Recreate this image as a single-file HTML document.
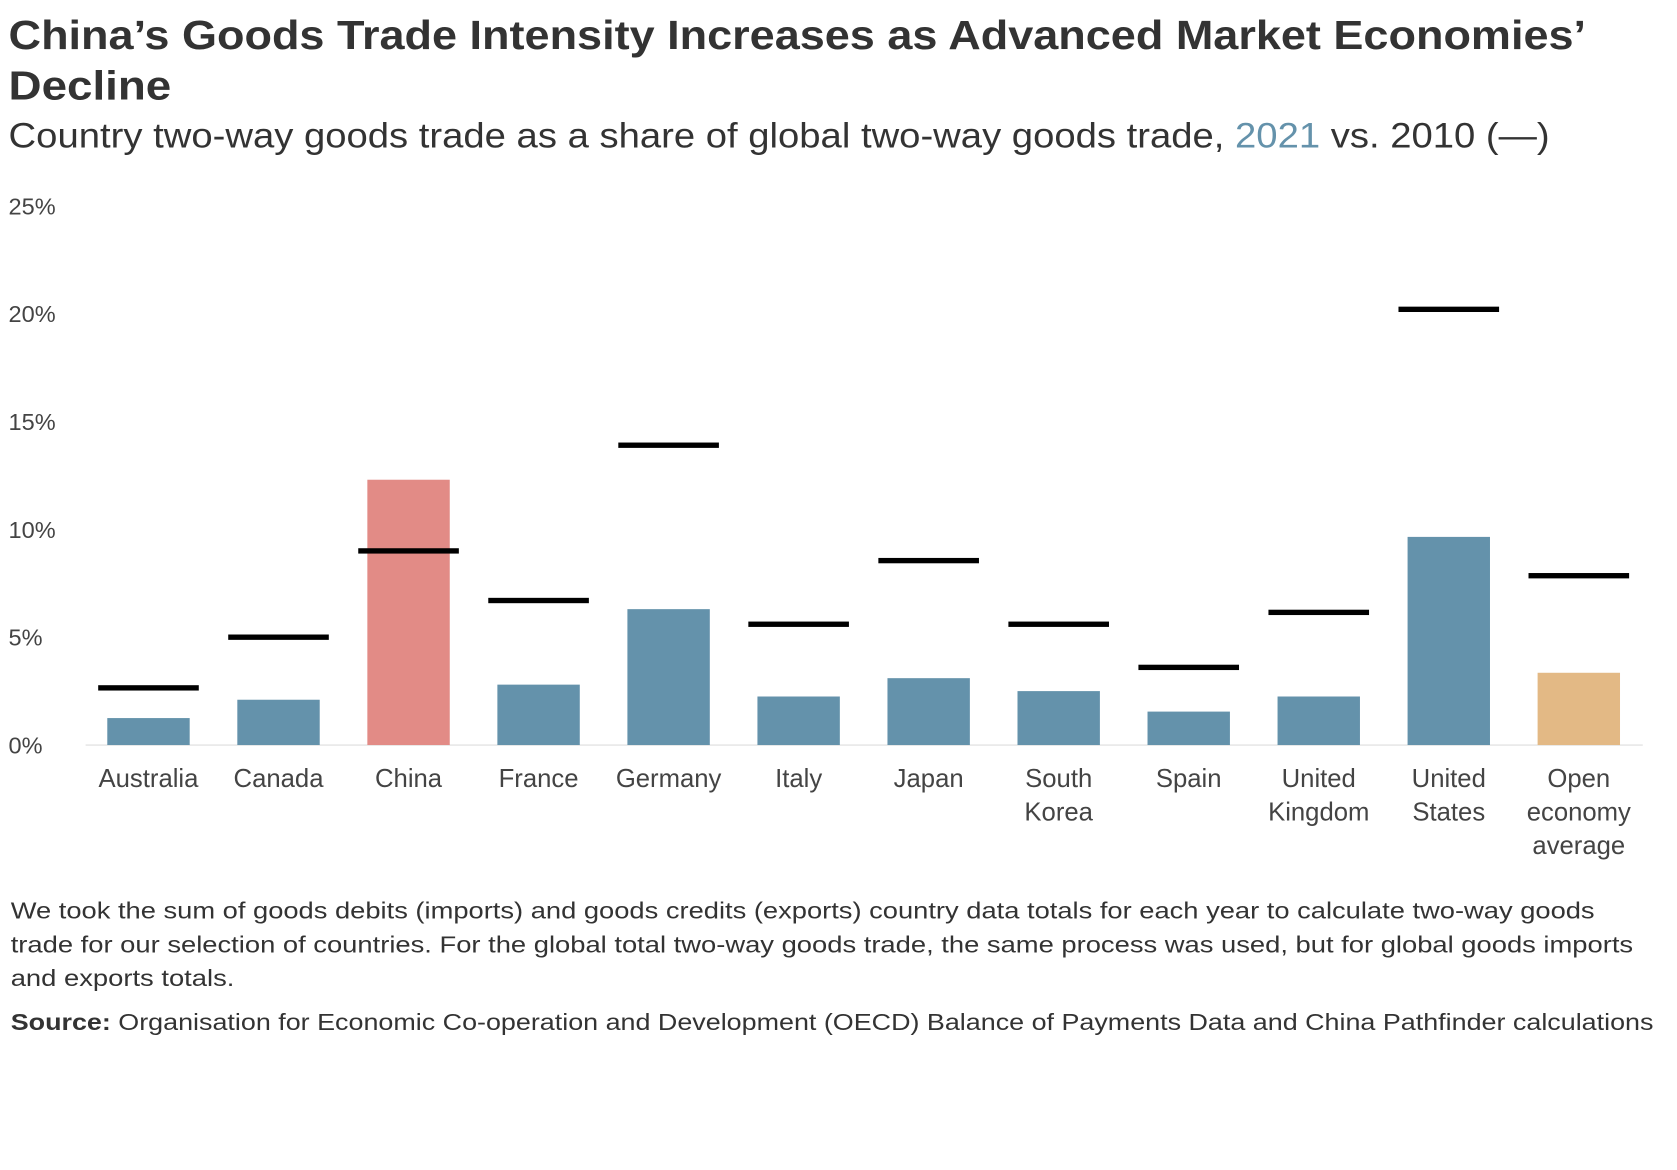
<!DOCTYPE html>
<html><head><meta charset="utf-8"><style>
html,body{margin:0;padding:0;background:#fff;}
svg{display:block;font-family:"Liberation Sans",sans-serif;}
</style></head><body>
<svg id="chart" width="1677" height="1170" viewBox="0 0 1567 1093" preserveAspectRatio="none" xmlns="http://www.w3.org/2000/svg">
<text x="8" y="46" font-size="38" font-weight="bold" fill="#333" textLength="1474" lengthAdjust="spacingAndGlyphs">China’s Goods Trade Intensity Increases as Advanced Market Economies’</text>
<text x="8" y="93" font-size="38" font-weight="bold" fill="#333" textLength="152" lengthAdjust="spacingAndGlyphs">Decline</text>
<text x="8" y="138" font-size="33" fill="#333" textLength="1440" lengthAdjust="spacingAndGlyphs">Country two-way goods trade as a share of global two-way goods trade, <tspan fill="#6492ab">2021</tspan> vs. 2010 (—)</text>
<g id="yaxis"></g>
<line x1="80" x2="1535" y1="696" y2="696" stroke="#ddd" stroke-width="1"/>
<g id="bars"></g>
<g id="marks"></g>
<g id="xlabels"></g>
<g font-size="22" fill="#333">
<text x="10" y="858" textLength="1480" lengthAdjust="spacingAndGlyphs">We took the sum of goods debits (imports) and goods credits (exports) country data totals for each year to calculate two-way goods</text>
<text x="10" y="890" textLength="1516" lengthAdjust="spacingAndGlyphs">trade for our selection of countries. For the global total two-way goods trade, the same process was used, but for global goods imports</text>
<text x="10" y="921" textLength="209" lengthAdjust="spacingAndGlyphs">and exports totals.</text>
</g>
<text x="10" y="962" font-size="22" fill="#333" textLength="1535" lengthAdjust="spacingAndGlyphs"><tspan font-weight="bold">Source:</tspan> Organisation for Economic Co-operation and Development (OECD) Balance of Payments Data and China Pathfinder calculations</text>
</svg>
<script>
const categories = ["Australia","Canada","China","France","Germany","Italy","Japan","South Korea","Spain","United Kingdom","United States","Open economy average"];
const values2021 = [1.25,2.1,12.3,2.8,6.3,2.25,3.1,2.5,1.55,2.25,9.65,3.35];
const values2010 = [2.65,5.0,9.0,6.7,13.9,5.6,8.55,5.6,3.6,6.15,20.2,7.85];
const yTicks = [0,5,10,15,20,25];
const yTickLabels = ["0%","5%","10%","15%","20%","25%"];
const NS="http://www.w3.org/2000/svg";
const x0=78, step=121.5, barW=77, markW=94;
const y=v=>696-v*20.15;
const xc=i=>x0+step*(i+0.5);
function mk(tag,attrs,parent){const e=document.createElementNS(NS,tag);for(const k in attrs)e.setAttribute(k,attrs[k]);parent.appendChild(e);return e;}
const ya=document.getElementById('yaxis');
yTicks.forEach((t,i)=>{const e=mk('text',{x:8,y:y(t)+8,'font-size':22,fill:'#444'},ya);


e.textContent=yTickLabels[i];});
const bg=document.getElementById('bars'),mg=document.getElementById('marks'),xl=document.getElementById('xlabels');
categories.forEach((c,i)=>{
const col=c==="China"?"#e28b86":(c==="Open economy average"?"#e3b985":"#6492ab");
const r=mk('rect',{x:xc(i)-barW/2,y:y(values2021[i]),width:barW,height:696-y(values2021[i]),fill:col},bg);


const m=mk('rect',{x:xc(i)-markW/2,y:y(values2010[i])-2.5,width:markW,height:5,fill:'#000'},mg);


const words=c==="Open economy average"?["Open","economy","average"]:(c.indexOf(' ')>0?c.split(' '):[c]);
words.forEach((w,j)=>{const t=mk('text',{x:xc(i),y:735+j*31.5,'font-size':24,fill:'#444','text-anchor':'middle'},xl);


t.textContent=w;});
});
</script>
</body></html>
